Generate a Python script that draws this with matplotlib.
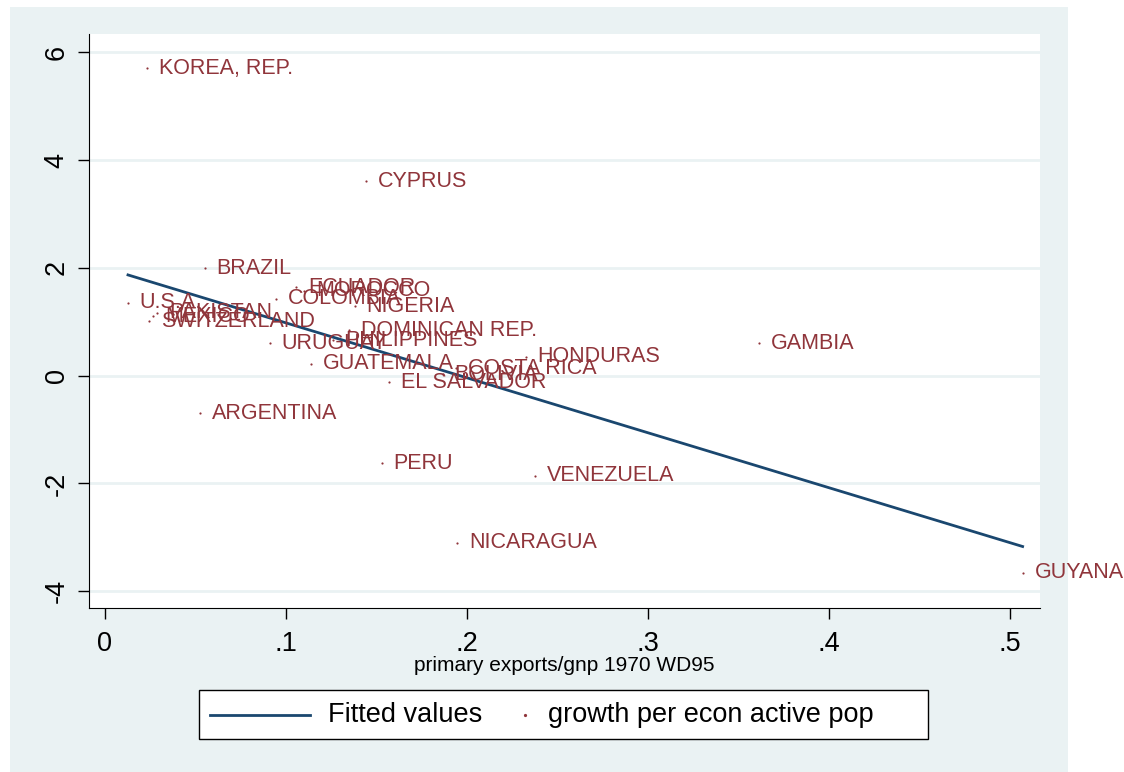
import matplotlib.pyplot as plt
from matplotlib.patches import Rectangle
from matplotlib.lines import Line2D
import numpy as np

plt.rcParams['font.family'] = ['Liberation Sans', 'DejaVu Sans']

# countries, primary exports/gnp 1970 and growth per econ active pop
countries = ['KOREA, REP.', 'CYPRUS', 'BRAZIL', 'U.S.A.', 'PAKISTAN', 'MEXICO',
             'SWITZERLAND', 'COLOMBIA', 'ECUADOR', 'MOROCCO', 'NIGERIA',
             'DOMINICAN REP.', 'PHILIPPINES', 'URUGUAY', 'GUATEMALA', 'HONDURAS',
             'COSTA RICA', 'BOLIVIA', 'EL SALVADOR', 'GAMBIA', 'ARGENTINA',
             'PERU', 'VENEZUELA', 'NICARAGUA', 'GUYANA']
prim_exports = [0.0232, 0.144, 0.055, 0.0127, 0.0290, 0.0265,
                0.0245, 0.0945, 0.1055, 0.1100, 0.1380,
                0.1348, 0.1260, 0.0912, 0.114, 0.2324,
                0.194, 0.1867, 0.157, 0.3613, 0.0525,
                0.153, 0.2376, 0.1945, 0.507]
growth = [5.70, 3.61, 1.99, 1.35, 1.17, 1.10,
          1.01, 1.43, 1.64, 1.58, 1.29,
          0.84, 0.66, 0.60, 0.226, 0.35,
          0.14, 0.03, -0.12, 0.60, -0.70,
          -1.62, -1.86, -3.10, -3.66]

line_col = '#1a476f'
pt_col = '#90353b'
bg = '#eaf2f3'

x = np.array(prim_exports)
y = np.array(growth)
slope, icept = np.polyfit(x, y, 1)
order = np.argsort(x)

W, H = 1124, 772
fig = plt.figure(figsize=(W/100, H/100), dpi=100)
# light outer graph region
fig.add_artist(Rectangle((10/W, 0), 1058/W, 765/H, transform=fig.transFigure,
                         facecolor=bg, edgecolor='none', zorder=-10))

ax = fig.add_axes([89/W, (H-608)/H, (1040-89)/W, (608-34)/H])
ax.set_facecolor('white')

ax.plot(x[order], icept + slope*x[order], color=line_col, lw=2, zorder=3)
ax.scatter(x, y, s=2.5, color=pt_col, zorder=4, linewidths=0)
for name, xi, yi in zip(countries, x, y):
    ax.annotate(name, (xi, yi), xytext=(8.5, 0), textcoords='offset points',
                va='center', ha='left', fontsize=15.5, color=pt_col, zorder=5)

ax.set_xlim(-0.00884, 0.5166)
ax.set_ylim(-4.31, 6.34)
ax.set_xticks([0, 0.1, 0.2, 0.3, 0.4, 0.5])
ax.set_xticklabels(['0', '.1', '.2', '.3', '.4', '.5'])
ax.set_yticks([-4, -2, 0, 2, 4, 6])
ax.set_yticklabels(['-4', '-2', '0', '2', '4', '6'], rotation=90, va='center')
ax.tick_params(labelsize=19.5, length=8, width=1, pad=6)
ax.tick_params(axis='x', pad=8.5)
ax.grid(axis='y', color=bg, lw=2)
ax.set_axisbelow(True)
for s in ['top', 'right']:
    ax.spines[s].set_visible(False)
ax.set_xlabel('primary exports/gnp 1970 WD95', fontsize=15, labelpad=-1)

# legend box drawn by hand
fig.add_artist(Rectangle((199/W, 1-739/H), 729/W, 49/H, transform=fig.transFigure,
                         facecolor='white', edgecolor='black', lw=1, zorder=5))
ly = 1 - 714.5/H
fig.add_artist(Line2D([210/W, 310/W], [ly, ly], color=line_col, lw=2, zorder=6))
fig.add_artist(Line2D([525/W], [ly], color=pt_col, marker='o', markersize=1.3, lw=0, zorder=6))
fig.text(328/W, ly, 'Fitted values', fontsize=19.5, va='center', zorder=6)
fig.text(548/W, ly, 'growth per econ active pop', fontsize=19.5, va='center', zorder=6)

fig.savefig('out.png', dpi=100, facecolor='white')
